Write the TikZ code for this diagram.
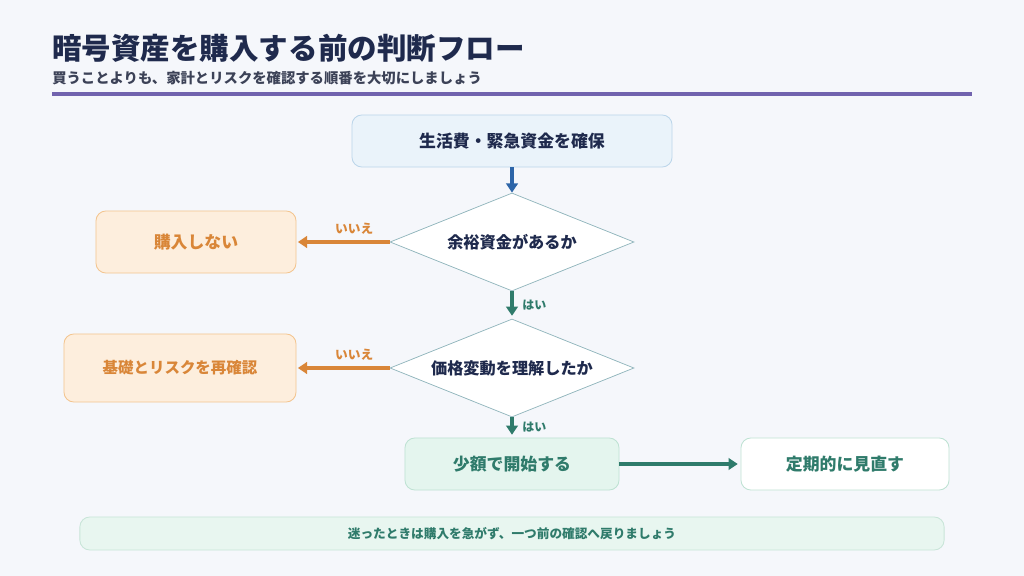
\documentclass[tikz,border=0pt]{standalone}
\usepackage{fontspec}
\setmainfont{Noto Sans CJK JP}
\usepackage{xcolor}
\usetikzlibrary{arrows.meta,positioning,shapes.geometric}
\definecolor{pageBg}{HTML}{F5F7FB}
\definecolor{navyText}{HTML}{1F2A4D}
\definecolor{subText}{HTML}{3C4257}
\definecolor{ruleViolet}{HTML}{7163AE}
\definecolor{prepFill}{HTML}{EAF3FA}
\definecolor{prepLine}{HTML}{BCD6EA}
\definecolor{prepArrow}{HTML}{2D65A8}
\definecolor{askLine}{HTML}{8DB3BA}
\definecolor{noOrange}{HTML}{D98638}
\definecolor{noFill}{HTML}{FDEEDD}
\definecolor{noLine}{HTML}{F3C58F}
\definecolor{goTeal}{HTML}{2F7B6B}
\definecolor{goFill}{HTML}{E4F5EE}
\definecolor{goLine}{HTML}{BEE2D3}
\definecolor{tipFill}{HTML}{E8F6F0}
\definecolor{tipLine}{HTML}{C8E5D8}
\tikzset{
  fbase/.style={draw,rounded corners=7pt,align=center,inner sep=3pt,line width=0.6pt,
    font=\bfseries\fontsize{12}{14}\selectfont,minimum height=1.3cm},
  fprep/.style={fbase,fill=prepFill,draw=prepLine,text=navyText},
  fstop/.style={fbase,fill=noFill,draw=noLine,text=noOrange},
  fgo/.style={fbase,fill=goFill,draw=goLine,text=goTeal},
  fkeep/.style={fbase,fill=white,draw=goLine,text=goTeal},
  fask/.style={diamond,draw=askLine,fill=white,line width=0.5pt,inner sep=0pt,aspect=2.44,
    minimum width=6.1cm,minimum height=2.45cm,text=navyText,
    font=\bfseries\fontsize{11.5}{13}\selectfont},
  fprepflow/.style={-{Triangle[length=2.3mm,width=2.9mm]},line width=2.2pt,draw=prepArrow},
  fnoflow/.style={-{Triangle[length=2.3mm,width=2.9mm]},line width=2.2pt,draw=noOrange,shorten >=1pt},
  fgoflow/.style={-{Triangle[length=2.3mm,width=2.9mm]},line width=2.2pt,draw=goTeal,shorten >=2pt},
  fnolbl/.style={font=\bfseries\fontsize{9}{10}\selectfont,text=noOrange},
  fgolbl/.style={font=\bfseries\fontsize{8.5}{10}\selectfont,text=goTeal},
}

\begin{document}
\begin{tikzpicture}[x=0.025cm,y=-0.025cm]
\path[use as bounding box,fill=pageBg] (0,0) rectangle (1024,576);
\node[anchor=west,inner sep=0pt,text=navyText,font=\bfseries\fontsize{21}{24}\selectfont] (title) at (52,48) {暗号資産を購入する前の判断フロー};
\node[anchor=west,inner sep=0pt,text=subText,font=\bfseries\fontsize{10.2}{12}\selectfont] (subtitle) at (52,78) {買うことよりも、家計とリスクを確認する順番を大切にしましょう};
\coordinate (ruleL) at (52,94); \coordinate (ruleR) at (972,94);
\draw[ruleViolet,line width=2.6pt] (ruleL) -- (ruleR);

\node[fprep,minimum width=8cm] (fund) at (512,141) {生活費・緊急資金を確保};
\node[fask] (spare) at (512,242) {余裕資金があるか};
\node[fask] (grasp) at (512,368) {価格変動を理解したか};
\node[fstop,minimum width=5cm,minimum height=1.55cm] (skip) at (196,242) {購入しない};
\node[fstop,minimum width=5.8cm,minimum height=1.7cm,font=\bfseries\fontsize{11}{13}\selectfont] (relearn) at (180,368) {基礎とリスクを再確認};
\node[fgo,minimum width=5.35cm] (small) at (512,464) {少額で開始する};
\node[fkeep,minimum width=5.2cm] (review) at (845,464) {定期的に見直す};
\node[fbase,fill=tipFill,draw=tipLine,text=goTeal,minimum width=21.6cm,minimum height=0.825cm,
  font=\bfseries\fontsize{9}{11}\selectfont] (tip) at (512,533.5) {迷ったときは購入を急がず、一つ前の確認へ戻りましょう};

\draw[fprepflow] (fund) -- (spare);
\draw[fnoflow] (spare.west) -- (skip) node[fnolbl,pos=0.38,above=1pt]{いいえ};
\draw[fgoflow] (spare) -- (grasp) node[fgolbl,midway,right=3pt]{はい};
\draw[fnoflow] (grasp.west) -- (relearn) node[fnolbl,pos=0.38,above=1pt]{いいえ};
\draw[fgoflow] (grasp) -- (small) node[fgolbl,midway,right=3pt]{はい};
\draw[fgoflow] (small) -- (review);
\end{tikzpicture}
\end{document}
